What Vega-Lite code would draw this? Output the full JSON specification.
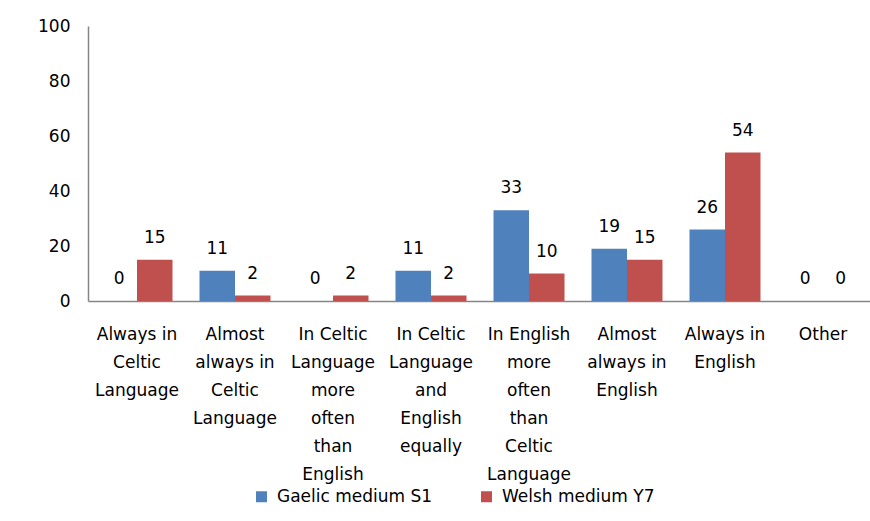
{
  "$schema": "https://vega.github.io/schema/vega-lite/v6.json",
  "width": 784,
  "height": 275,
  "autosize": "none",
  "padding": {"left": 88, "top": 26, "right": 0, "bottom": 220},
  "background": "white",
  "config": {
    "view": {"stroke": null},
    "font": "DejaVu Sans",
    "axis": {"grid": false, "ticks": false, "domainColor": "#868686", "domainWidth": 1.5, "labelColor": "#000000", "labelFontSize": 17, "labelFont": "DejaVu Sans"},
    "legend": {"labelFont": "DejaVu Sans"}
  },
  "data": {
    "values": [
      {"category": "Always in|Celtic|Language", "series": "Gaelic medium S1", "value": 0},
      {"category": "Always in|Celtic|Language", "series": "Welsh medium Y7", "value": 15},
      {"category": "Almost|always in|Celtic|Language", "series": "Gaelic medium S1", "value": 11},
      {"category": "Almost|always in|Celtic|Language", "series": "Welsh medium Y7", "value": 2},
      {"category": "In Celtic|Language|more|often|than|English", "series": "Gaelic medium S1", "value": 0},
      {"category": "In Celtic|Language|more|often|than|English", "series": "Welsh medium Y7", "value": 2},
      {"category": "In Celtic|Language|and|English|equally", "series": "Gaelic medium S1", "value": 11},
      {"category": "In Celtic|Language|and|English|equally", "series": "Welsh medium Y7", "value": 2},
      {"category": "In English|more|often|than|Celtic|Language", "series": "Gaelic medium S1", "value": 33},
      {"category": "In English|more|often|than|Celtic|Language", "series": "Welsh medium Y7", "value": 10},
      {"category": "Almost|always in|English", "series": "Gaelic medium S1", "value": 19},
      {"category": "Almost|always in|English", "series": "Welsh medium Y7", "value": 15},
      {"category": "Always in|English", "series": "Gaelic medium S1", "value": 26},
      {"category": "Always in|English", "series": "Welsh medium Y7", "value": 54},
      {"category": "Other", "series": "Gaelic medium S1", "value": 0},
      {"category": "Other", "series": "Welsh medium Y7", "value": 0}
    ]
  },
  "encoding": {
    "x": {
      "field": "category", "type": "nominal", "sort": null,
      "scale": {"paddingInner": 0.2755, "paddingOuter": 0.1378},
      "axis": {"title": null, "labelAngle": 0, "labelExpr": "split(datum.label, '|')", "labelLineHeight": 28, "labelBaseline": "top", "labelPadding": 25, "labelLimit": 0}
    },
    "xOffset": {"field": "series", "type": "nominal", "scale": {"paddingInner": 0, "paddingOuter": 0}},
    "y": {
      "field": "value", "type": "quantitative",
      "scale": {"domain": [0, 100], "nice": false},
      "axis": {"title": null, "values": [0, 20, 40, 60, 80, 100], "labelPadding": 18}
    }
  },
  "layer": [
    {
      "mark": {"type": "bar"},
      "encoding": {
        "color": {
          "field": "series", "type": "nominal",
          "scale": {"domain": ["Gaelic medium S1", "Welsh medium Y7"], "range": ["#4F81BD", "#C0504D"]},
          "legend": {"title": null, "orient": "none", "legendX": 165, "legendY": 462, "direction": "horizontal", "symbolType": "square", "symbolSize": 121, "symbolStrokeWidth": 0, "labelFontSize": 17, "labelColor": "#000000", "columnPadding": 45, "padding": 0, "labelOffset": 7}
        }
      }
    },
    {
      "mark": {"type": "text", "baseline": "middle", "dy": -22, "fontSize": 17, "color": "#000000", "font": "DejaVu Sans"},
      "encoding": {"text": {"field": "value", "type": "quantitative"}}
    }
  ]
}
